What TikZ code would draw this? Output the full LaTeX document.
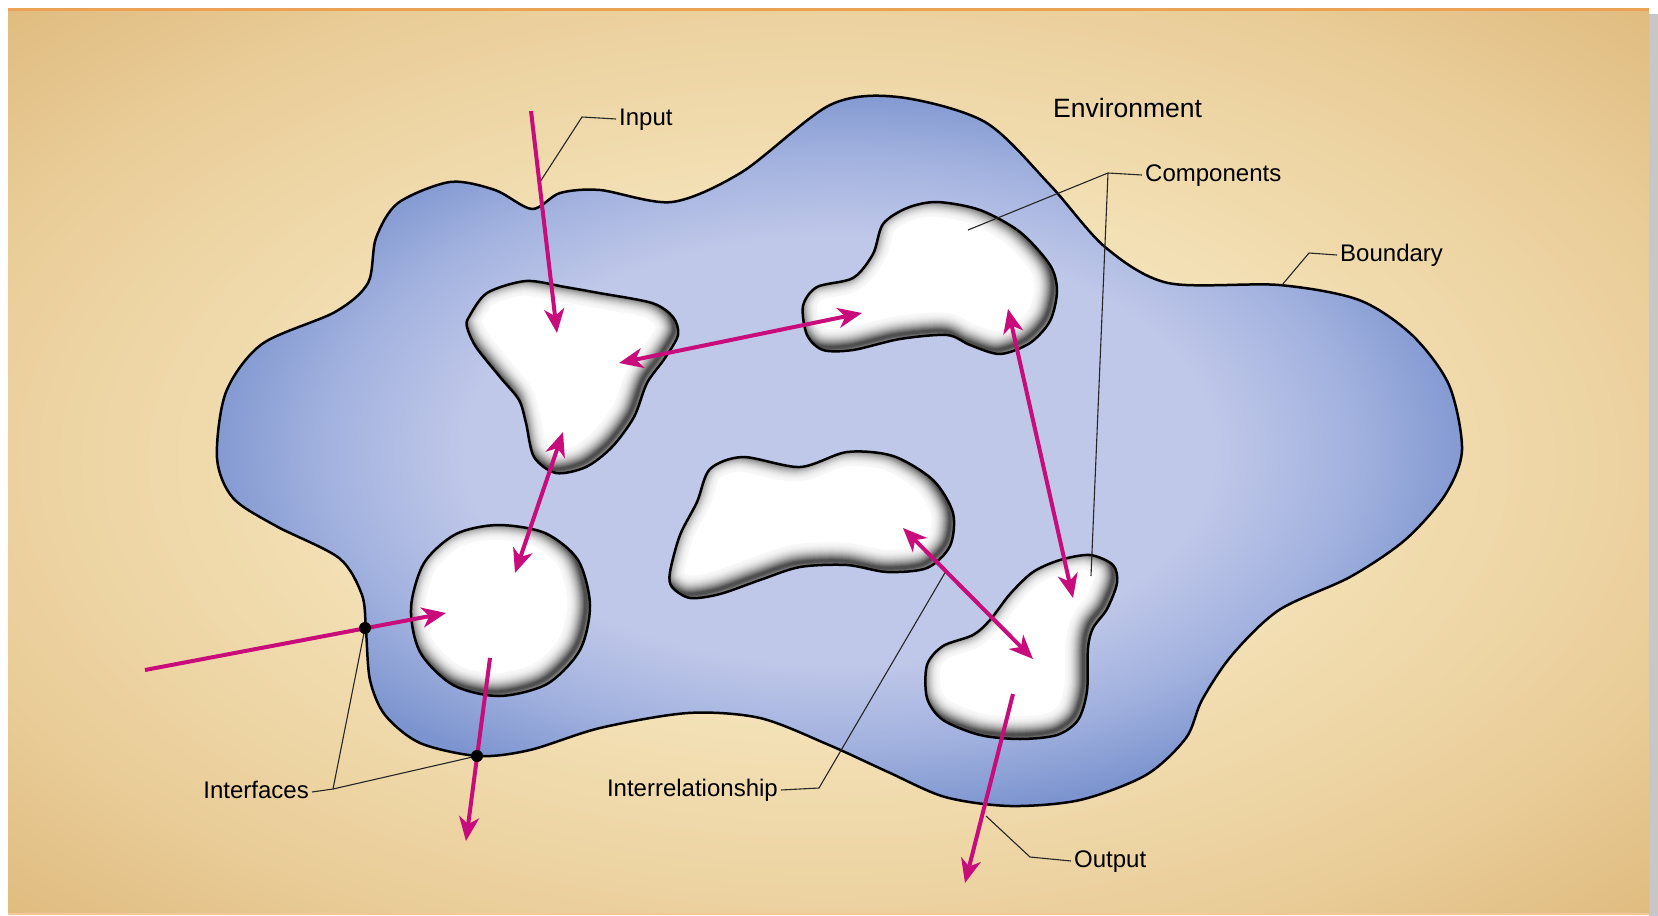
\documentclass[tikz,border=0pt]{standalone}
\usepackage{fontspec}
\setmainfont{Liberation Sans}
\usetikzlibrary{arrows.meta}

\definecolor{bgLight}{RGB}{244,226,184}
\definecolor{bgMid}{RGB}{234,206,154}
\definecolor{bgDark}{RGB}{222,184,122}
\definecolor{edgeOrange}{RGB}{236,162,84}
\definecolor{sysLight}{RGB}{192,200,233}
\definecolor{sysMid}{RGB}{160,176,222}
\definecolor{sysDark}{RGB}{124,148,207}
\definecolor{flowMag}{RGB}{200,12,124}

\pgfdeclareradialshading{paperglow}{\pgfpoint{0bp}{0bp}}{color(0bp)=(bgLight); color(14bp)=(bgLight); color(27bp)=(bgMid); color(37bp)=(bgDark); color(50bp)=(bgDark)}
\pgfdeclareradialshading{sysglow}{\pgfpoint{0bp}{0bp}}{color(0bp)=(sysLight); color(15bp)=(sysLight); color(21bp)=(sysMid); color(26bp)=(sysDark); color(50bp)=(sysDark)}

% white component with a soft grey rim inside
\newcommand{\component}[1]{%
  \fill[white] #1;
  \begin{scope}
    \clip #1;
    \foreach \i in {0,...,17} {
      \pgfmathsetmacro\w{37-2*\i}
      \pgfmathsetmacro\g{3+66*(\i/17)^2}
      \draw[black!\g, line width=\w pt, shift={(-4,-4)}] #1;
    }
  \end{scope}
  \draw[line width=2.5pt] #1;
}

\begin{document}
\begin{tikzpicture}[x=1pt,y=-1pt,
    flowarrow/.style={draw=flowMag, line width=4pt, -{Stealth[length=24pt,width=20pt,inset=7pt]}},
    flowboth/.style={draw=flowMag, line width=4pt, {Stealth[length=24pt,width=20pt,inset=7pt]}-{Stealth[length=24pt,width=20pt,inset=7pt]}},
    leaderline/.style={draw=black!85, line width=1.1pt},
    lbl/.style={font=\fontsize{24}{28}\selectfont, inner sep=3pt, text height=17pt, text depth=5pt}]
    \useasboundingbox (0,0) rectangle (1658,916);

    % Paper
    \fill[white] (0,0) rectangle (1658,916);
    \fill[black!22] (1649,14) rectangle (1658,916);
    \shade[shading=paperglow] (8,8) rectangle (1649,914);
    \draw[edgeOrange, line width=3pt] (8,9) -- (1649,9);
    \draw[edgeOrange!60, line width=1.5pt] (8,914) -- (1649,914);

    % System boundary
    \shadedraw[shading=sysglow, line width=2.5pt]
      plot[smooth cycle] coordinates {
        (217,458) (226,392) (262,344) (335,312) (368,283) (376,238) (398,203)
        (450,182) (495,190) (532,209) (560,193) (600,190) (672,202) (742,172)
        (830,105) (898,97) (985,122) (1050,185) (1105,247) (1168,283) (1279,285)
        (1359,300) (1412,335) (1449,385) (1462,450) (1445,495) (1405,540)
        (1350,577) (1279,610) (1232,655) (1202,700) (1186,738) (1146,775)
        (1080,800) (1010,806) (945,797) (888,772) (829,745) (760,718) (688,713)
        (600,728) (530,750) (478,756) (420,743) (385,715) (370,680) (366,631)
        (362,595) (339,558) (276,526) (233,498)};

    % Components
    \component{plot[smooth cycle] coordinates {
        (469,317) (487,293) (526,281) (565,287) (599,293) (652,303) (673,317)
        (678,335) (665,358) (647,383) (634,417) (612,447) (586,467) (556,473)
        (534,457) (526,423) (519,400) (500,377) (476,347) (467,327)}}
    \component{plot[smooth cycle] coordinates {
        (803,306) (817,287) (853,278) (873,254) (883,224) (907,208) (937,202)
        (980,210) (1020,232) (1050,265) (1057,291) (1050,321) (1030,343)
        (1000,354) (970,345) (947,335) (900,339) (853,350) (823,350) (807,335)}}
    \component{plot[smooth cycle] coordinates {
        (498,525) (545,533) (578,560) (590,605) (580,650) (547,684) (499,696)
        (453,685) (420,652) (411,608) (424,563) (456,534)}}
    \component{plot[smooth cycle] coordinates {
        (670,572) (680,535) (697,502) (710,469) (743,457) (800,467) (847,452)
        (893,456) (933,480) (953,513) (950,546) (927,568) (887,572) (847,565)
        (800,567) (760,580) (720,594) (690,598) (672,587)}}
    \component{plot[smooth cycle] coordinates {
        (1090,555) (1113,565) (1117,583) (1107,609) (1093,628) (1088,648)
        (1087,691) (1078,720) (1057,735) (1020,739) (980,735) (943,720)
        (927,698) (927,665) (943,646) (973,635) (990,620) (1010,594)
        (1033,572) (1060,560)}}

    % Labels
    \node[lbl, anchor=west] (input) at (616,119) {Input};
    \node[lbl, anchor=west, font=\fontsize{26.5}{30}\selectfont] (env) at (1050,111) {Environment};
    \node[lbl, anchor=west] (comps) at (1142,175) {Components};
    \node[lbl, anchor=west] (bound) at (1337,255) {Boundary};
    \node[lbl, anchor=east] (ifaces) at (312,792) {Interfaces};
    \node[lbl, anchor=east] (interrel) at (781,790) {Interrelationship};
    \node[lbl, anchor=west] (output) at (1071,861) {Output};

    % Leader lines
    \coordinate (inHit) at (540,182);
    \coordinate (compFork) at (1108,173);
    \coordinate (compB) at (968,230);
    \coordinate (compE) at (1091,576);
    \coordinate (boundHit) at (1282,285);
    \coordinate (ifFork) at (333,789);
    \coordinate (ifOne) at (365,628);
    \coordinate (ifTwo) at (477,756);
    \coordinate (relHit) at (946,571);
    \coordinate (outHit) at (986,816);
    \draw[leaderline] (input.west) -- (582,117) -- (inHit);
    \draw[leaderline] (comps.west) -- (compFork) -- (compB);
    \draw[leaderline] (compFork) -- (compE);
    \draw[leaderline] (bound.west) -- (1309,253) -- (boundHit);
    \draw[leaderline] (ifaces.east) -- (ifFork) -- (ifOne);
    \draw[leaderline] (ifFork) -- (ifTwo);
    \draw[leaderline] (interrel.east) -- (819,788) -- (relHit);
    \draw[leaderline] (output.west) -- (1030,857) -- (outHit);

    % Flows
    \coordinate (inTop) at (531,111);
    \coordinate (inA) at (557,333);
    \coordinate (abA) at (619,363);
    \coordinate (abB) at (862,313);
    \coordinate (acA) at (563,432);
    \coordinate (acC) at (515,573);
    \coordinate (beB) at (1008,309);
    \coordinate (beE) at (1073,598);
    \coordinate (deD) at (903,528);
    \coordinate (deE) at (1033,659);
    \coordinate (envLeft) at (145,670);
    \coordinate (inC) at (446,613);
    \coordinate (outC) at (490,658);
    \coordinate (outCEnd) at (466,841);
    \coordinate (outE) at (1013,694);
    \coordinate (outEEnd) at (965,883);
    \draw[flowarrow] (inTop) -- (inA);
    \draw[flowboth] (abA) -- (abB);
    \draw[flowboth] (acA) -- (acC);
    \draw[flowboth] (beB) -- (beE);
    \draw[flowboth] (deD) -- (deE);
    \draw[flowarrow] (envLeft) -- (inC);
    \draw[flowarrow] (outC) -- (outCEnd);
    \draw[flowarrow] (outE) -- (outEEnd);

    % Interface points
    \fill (ifOne) circle[radius=6pt];
    \fill (ifTwo) circle[radius=6pt];
\end{tikzpicture}
\end{document}
